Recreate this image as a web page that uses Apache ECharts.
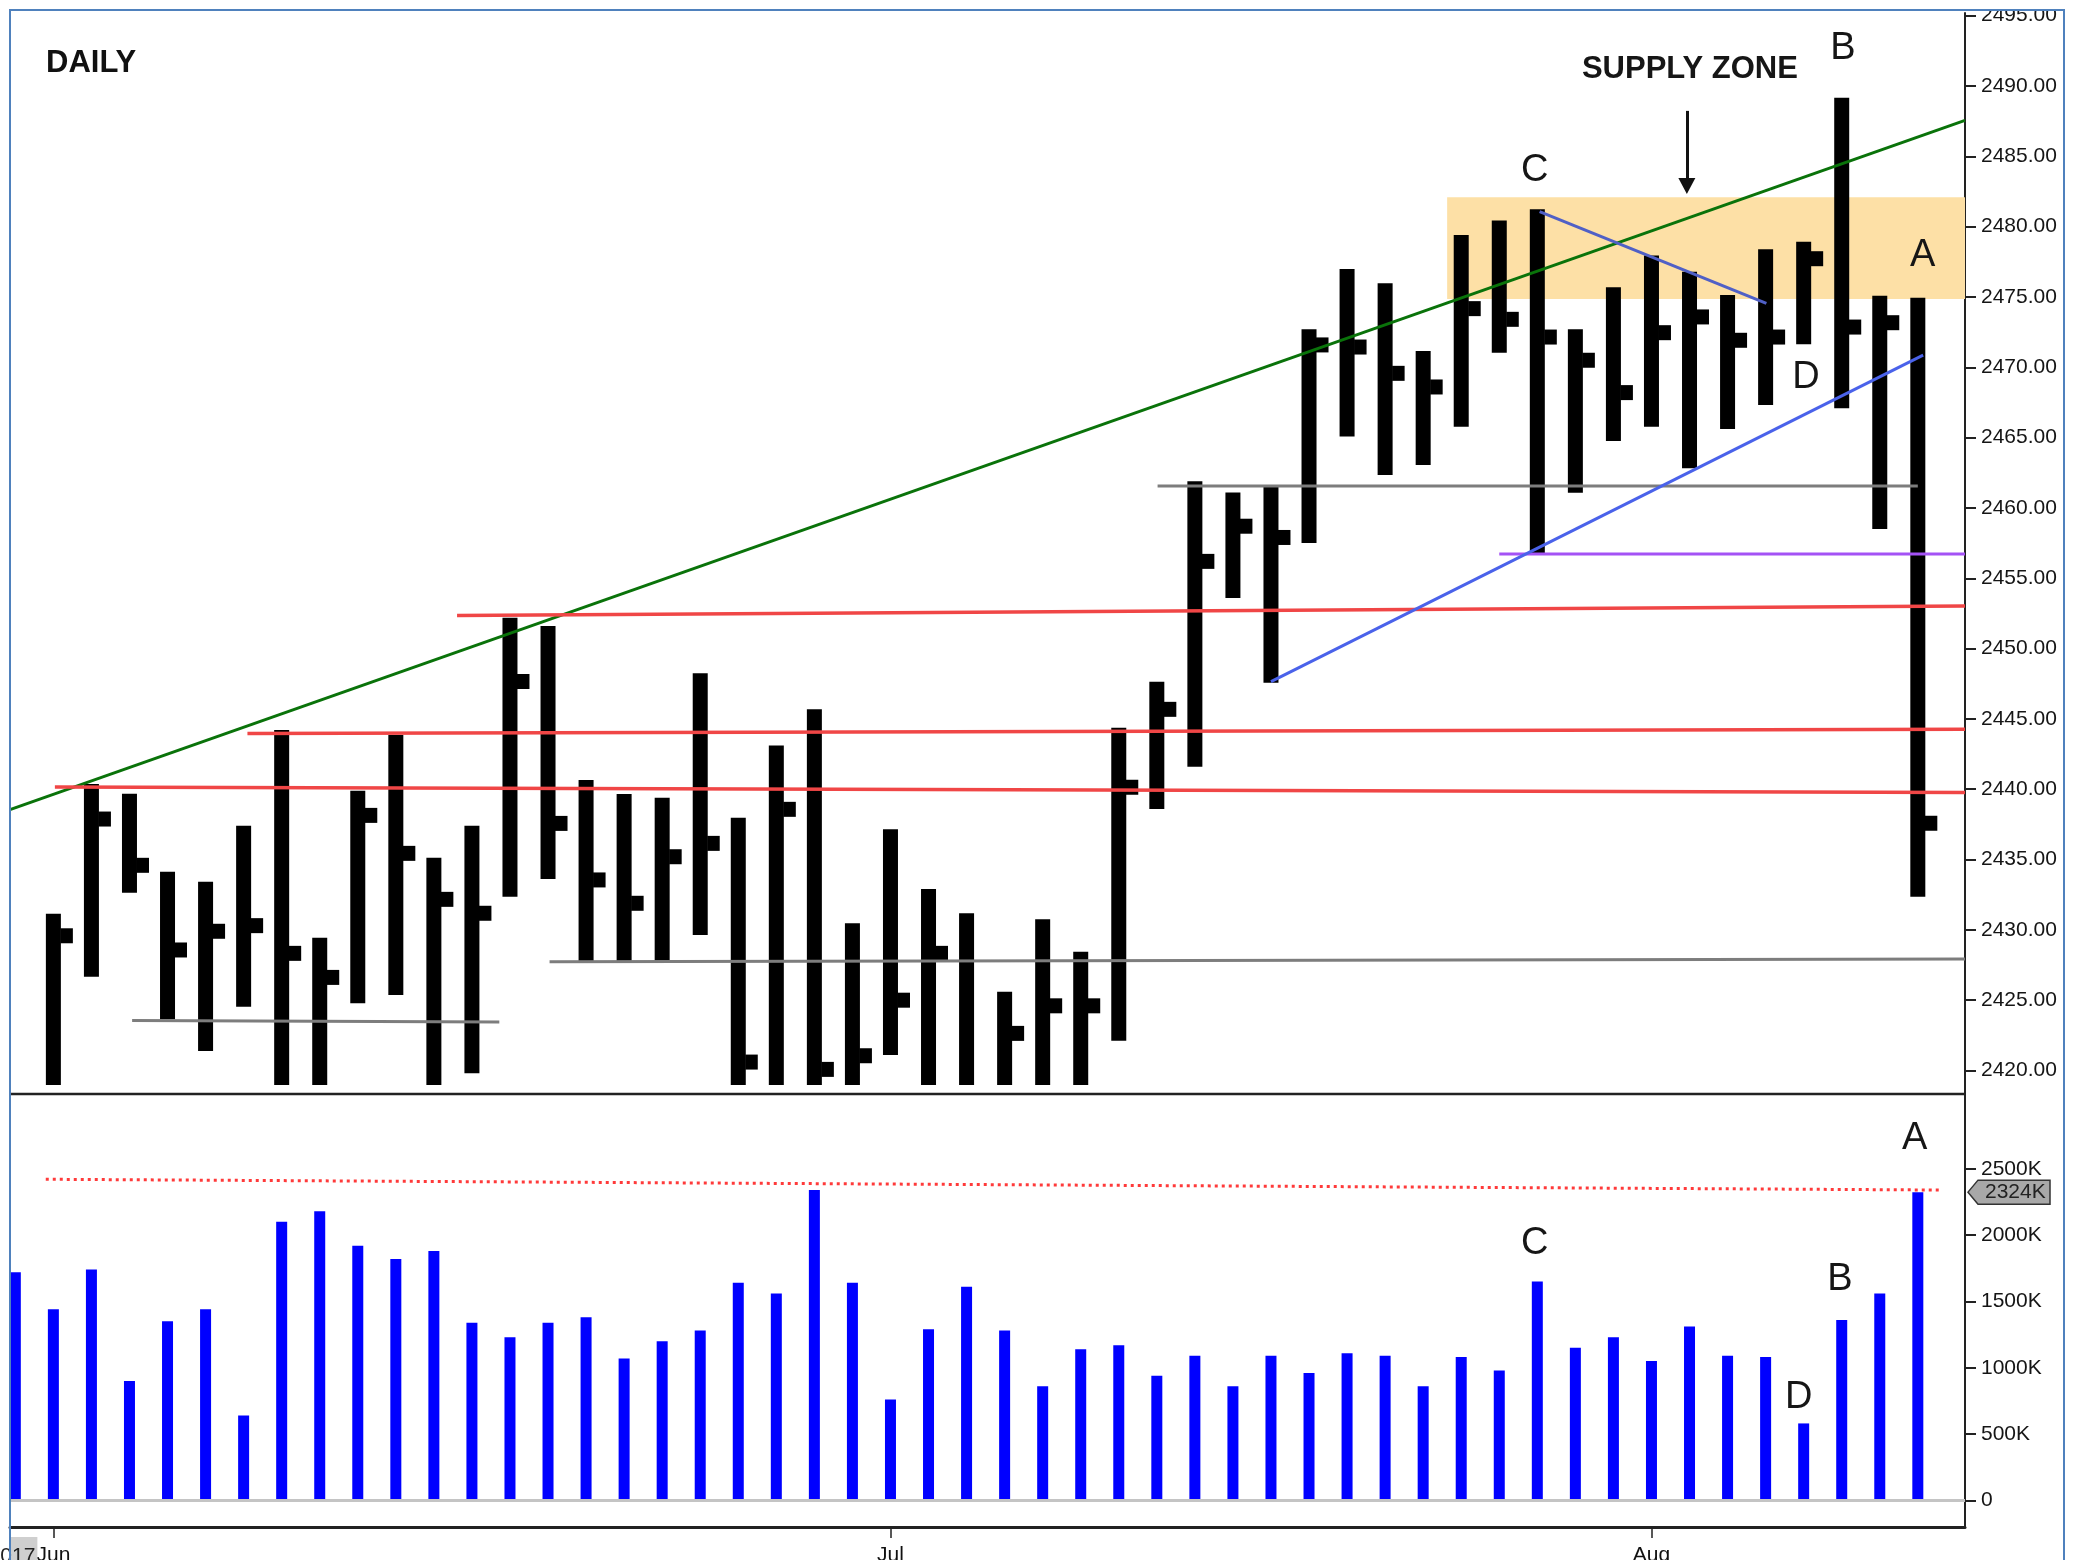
<!DOCTYPE html>
<html><head><meta charset="utf-8">
<script src="https://cdn.jsdelivr.net/npm/echarts@6/dist/echarts.min.js"></script>
<style>html,body{margin:0;padding:0;background:#fff}#c{width:2080px;height:1560px}</style>
</head><body><div id="c"></div><script>
// ---------- DATA ----------
const dates = ['2017-05-31',
 '2017-06-01','2017-06-02','2017-06-05','2017-06-06','2017-06-07','2017-06-08','2017-06-09','2017-06-12','2017-06-13','2017-06-14','2017-06-15','2017-06-16','2017-06-19','2017-06-20','2017-06-21','2017-06-22','2017-06-23','2017-06-26','2017-06-27','2017-06-28','2017-06-29','2017-06-30',
 '2017-07-03','2017-07-05','2017-07-06','2017-07-07','2017-07-10','2017-07-11','2017-07-12','2017-07-13','2017-07-14','2017-07-17','2017-07-18','2017-07-19','2017-07-20','2017-07-21','2017-07-24','2017-07-25','2017-07-26','2017-07-27','2017-07-28','2017-07-31',
 '2017-08-01','2017-08-02','2017-08-03','2017-08-04','2017-08-07','2017-08-08','2017-08-09','2017-08-10'];
const highs = [2415.0,2431.15,2440.37,2439.68,2434.14,2433.43,2437.41,2444.21,2429.44,2439.90,2443.85,2435.13,2437.41,2452.20,2451.60,2440.66,2439.66,2439.40,2448.24,2437.98,2443.10,2445.68,2430.47,2437.15,2432.90,2431.18,2425.60,2430.75,2428.45,2444.37,2447.65,2461.90,2461.10,2461.50,2472.70,2476.99,2475.97,2471.16,2479.41,2480.43,2481.23,2472.70,2475.69,2477.94,2476.80,2475.14,2478.39,2478.93,2489.17,2475.09,2474.95];
const lows = [2405.0,2417.0,2426.67,2432.64,2423.64,2421.39,2424.54,2417.0,2417.5,2424.78,2425.37,2417.5,2419.80,2432.36,2433.62,2427.79,2427.79,2427.80,2429.63,2417.0,2417.5,2417.0,2417.5,2421.10,2417.5,2416.5,2417.0,2417.5,2417.5,2422.12,2438.59,2441.60,2453.60,2447.57,2457.50,2465.07,2462.34,2463.05,2465.78,2471.04,2456.70,2461.08,2464.76,2465.78,2462.82,2465.61,2467.32,2471.63,2467.08,2458.50,2432.36];
const closes = [2412.0,2429.58,2437.88,2434.59,2428.57,2429.90,2430.30,2428.33,2426.62,2438.14,2435.44,2432.17,2431.18,2447.66,2437.57,2433.55,2431.89,2435.20,2436.15,2420.60,2438.57,2420.08,2421.05,2425.00,2428.33,2418.20,2422.64,2424.60,2424.60,2440.14,2445.68,2456.20,2458.70,2457.90,2471.59,2471.44,2469.57,2468.60,2474.17,2473.41,2472.15,2470.50,2468.20,2472.46,2473.58,2471.92,2472.15,2477.72,2472.86,2473.17,2437.58];
const volumes = [1720000,1440000,1740000,900000,1350000,1440000,640000,2100000,2180000,1920000,1820000,1880000,1340000,1230000,1340000,1380000,1070000,1200000,1280000,1640000,1560000,2340000,1640000,760000,1290000,1610000,1280000,860000,1140000,1170000,940000,1090000,860000,1090000,960000,1110000,1090000,860000,1080000,980000,1650000,1150000,1230000,1050000,1310000,1090000,1080000,580000,1360000,1560000,2324000];
const priceTicks = [2420,2425,2430,2435,2440,2445,2450,2455,2460,2465,2470,2475,2480,2485,2490,2495];
const volumeTicks = [0,500000,1000000,1500000,2000000,2500000];
const monthNames = ['Jan','Feb','Mar','Apr','May','Jun','Jul','Aug','Sep','Oct','Nov','Dec'];

// annotation lines (bar index, price)
const greenTrend = [[-0.14,2438.55],[51.24,2487.55]];
const redLevels = [
  [[1.04,2440.15],[51.24,2439.76]],
  [[6.10,2443.96],[51.24,2444.26]],
  [[11.61,2452.35],[51.24,2453.03]]
];
const grayLevels = [
  [[3.07,2423.55],[12.72,2423.45]],
  [[14.04,2427.74],[51.24,2427.92]],
  [[30.02,2461.56],[50.00,2461.56]]
];
const purpleLevel = [[39.0,2456.72],[51.24,2456.72]];
const blueRising = [[33.0,2447.65],[50.14,2470.87]];
const blueFalling = [[40.06,2481.06],[46.02,2474.55]];
const supplyZone = [[37.63,2482.09,51.24,2474.86]];
const supplyArrow = [[43.93,2488.23],[43.93,2482.89]];
const volumeRef = [[0.8,2421000],[50.56,2340000]];
const priceLetters = [['C',39.93,2483.96],['B',48.03,2492.70],['A',50.13,2477.98],['D',47.06,2469.30]];
const volumeLetters = [['A',49.92,2732000],['C',39.93,1940000],['B',47.95,1664000],['D',46.87,777000]];
const noteTexts = [['SUPPLY ZONE',44.01,2491.17]];

// ---------- CHART ----------
const FONT = "'Liberation Sans', Arial, Helvetica, sans-serif";
const X_MIN = -0.14, X_MAX = 51.24;
const monthTicks = dates.map((d,i)=> (i>0 && d.slice(5,7)!==dates[i-1].slice(5,7)) ? i : -1).filter(i=>i>=0);
const ohlc = dates.map((d,i)=>[i, highs[i], lows[i], closes[i]]);

const chart = echarts.init(document.getElementById('c'), null, {renderer:'canvas', width:2080, height:1560});

function lineSeries(pts, color, width, axis, extra){
  return Object.assign({
    type:'line', xAxisIndex:axis, yAxisIndex:axis, data:pts, symbol:'none', silent:true,
    lineStyle:{color:color, width:width}, z:5, animation:false
  }, extra||{});
}
function textSeries(arr, axis, font){
  return {
    type:'custom', xAxisIndex:axis, yAxisIndex:axis, silent:true, z:10,
    data: arr.map(d=>[d[1],d[2]]),
    renderItem:(p,api)=>{
      const pt = api.coord([api.value(0), api.value(1)]);
      return {type:'text', x:pt[0], y:pt[1], style:{text:arr[p.dataIndex][0], font:font, fill:'#161616', align:'center', verticalAlign:'middle'}};
    }
  };
}

const series = [
  { // supply zone
    type:'custom', xAxisIndex:0, yAxisIndex:0, silent:true, z:1, data:supplyZone,
    renderItem:(p,api)=>{
      const a = api.coord([api.value(0), api.value(1)]);
      const b = api.coord([api.value(2), api.value(3)]);
      return {type:'rect', shape:{x:a[0], y:a[1], width:b[0]-a[0], height:b[1]-a[1]}, style:{fill:'#fde0a6'}};
    }
  },
  { // OHLC bars (high-low with close tick)
    type:'custom', xAxisIndex:0, yAxisIndex:0, silent:true, z:3, data:ohlc, clip:true,
    encode:{x:0, y:[1,2,3]},
    renderItem:(p,api)=>{
      const i = api.value(0);
      const hi = api.coord([i, api.value(1)]);
      const lo = api.coord([i, api.value(2)]);
      const cl = api.coord([i, api.value(3)]);
      const cs = p.coordSys;
      const box = {x:cs.x, y:cs.y, width:cs.width, height:cs.height};
      const w = 15, tw = 12, th = 15;
      const body = echarts.graphic.clipRectByRect({x:hi[0]-w/2, y:hi[1], width:w, height:lo[1]-hi[1]}, box);
      const tick = echarts.graphic.clipRectByRect({x:hi[0]+w/2-0.5, y:cl[1]-th/2, width:tw+0.5, height:th}, box);
      const ch = [];
      if (body) ch.push({type:'rect', shape:body, style:{fill:'#000'}});
      if (tick) ch.push({type:'rect', shape:tick, style:{fill:'#000'}});
      return {type:'group', children:ch};
    }
  },
  lineSeries(greenTrend, '#0a730a', 3, 0),
  ...redLevels.map(l=>lineSeries(l, '#f04646', 3.5, 0)),
  ...grayLevels.map(l=>lineSeries(l, '#7d7d7d', 3, 0)),
  lineSeries(purpleLevel, '#a452f5', 3, 0),
  lineSeries(blueRising, '#4a62ea', 3, 0),
  lineSeries(blueFalling, '#5060c6', 3, 0),
  { // arrow
    type:'line', xAxisIndex:0, yAxisIndex:0, data:[], silent:true, z:6,
    markLine:{silent:true, symbol:['none','triangle'], symbolSize:[17,16], label:{show:false},
      lineStyle:{color:'#111', width:3, type:'solid'},
      data:[[{coord:supplyArrow[0]},{coord:supplyArrow[1]}]]}
  },
  textSeries(priceLetters, 0, '38px '+FONT),
  textSeries(noteTexts, 0, 'bold 31px '+FONT),
  { // volume
    type:'bar', xAxisIndex:1, yAxisIndex:1, data:volumes.map((v,i)=>[i,v]), barWidth:11, silent:true, z:3,
    itemStyle:{color:'#0000ff'},
    markLine:{silent:true, symbol:['none','none'], label:{show:false}, lineStyle:{color:'#c4c4c4', width:3, type:'solid'}, data:[{yAxis:0}]}
  },
  lineSeries(volumeRef, '#ff3a3a', 3, 1, {lineStyle:{color:'#ff3a3a', width:3, type:[3,4]}}),
  textSeries(volumeLetters, 1, '38px '+FONT)
];

const option = {
  animation:false,
  backgroundColor:'#ffffff',
  title:{text:'DAILY', left:46, top:48, padding:0, textStyle:{fontSize:31, fontWeight:'bold', color:'#111', fontFamily:FONT}},
  grid:[
    {left:10, right:115, top:13, height:1072, outerBoundsMode:'none', containLabel:false},
    {left:10, right:115, top:1094, height:433, outerBoundsMode:'none', containLabel:false}
  ],
  xAxis:[
    {type:'value', gridIndex:0, min:X_MIN, max:X_MAX, show:false},
    {type:'value', gridIndex:1, min:X_MIN, max:X_MAX,
      axisLine:{show:true, onZero:false, lineStyle:{color:'#222', width:3}},
      axisTick:{show:true, customValues:monthTicks, length:11, lineStyle:{color:'#222', width:1.5}},
      axisLabel:{customValues:monthTicks, margin:18, fontSize:21, color:'#111', fontFamily:FONT,
        formatter:v=>monthNames[parseInt(dates[Math.round(v)].slice(5,7),10)-1]},
      splitLine:{show:false}}
  ],
  yAxis:[
    {type:'value', gridIndex:0, position:'right', min:2418.97, max:2495.19,
      axisLine:{show:true, onZero:false, lineStyle:{color:'#222', width:2}},
      axisTick:{show:true, customValues:priceTicks, length:11, lineStyle:{color:'#222', width:2}},
      axisLabel:{customValues:priceTicks, margin:16, fontSize:21, color:'#151515', fontFamily:FONT, formatter:v=>v.toFixed(2)},
      splitLine:{show:false}},
    {type:'value', gridIndex:1, position:'right', min:-201000, max:3064000,
      axisLine:{show:true, onZero:false, lineStyle:{color:'#222', width:2}},
      axisTick:{show:true, customValues:volumeTicks, length:11, lineStyle:{color:'#222', width:2}},
      axisLabel:{customValues:volumeTicks, margin:16, fontSize:21, color:'#151515', fontFamily:FONT, formatter:v=> v===0 ? '0' : (v/1000)+'K'},
      splitLine:{show:false}}
  ],
  series:series
};
chart.setOption(option);

// overlays positioned through the library's scales
const lastVol = volumes[volumes.length-1];
const yb = chart.convertToPixel({yAxisIndex:1}, lastVol);
const axisX = chart.convertToPixel({xAxisIndex:1}, X_MAX);
const junPix = chart.convertToPixel({xAxisIndex:1}, monthTicks[0]);
const axisBottom = chart.convertToPixel({yAxisIndex:1}, -201000);
const panelSplit = chart.convertToPixel({yAxisIndex:1}, 3064000);
chart.setOption({graphic:[
  {type:'rect', z:100, shape:{x:0, y:0, width:2080, height:10}, style:{fill:'#fff'}},
  {type:'rect', z:101, shape:{x:10, y:10, width:2054, height:1600}, style:{fill:null, stroke:'#4f81bd', lineWidth:2}},
  {type:'line', z:50, shape:{x1:10, y1:panelSplit, x2:axisX, y2:panelSplit}, style:{stroke:'#222', lineWidth:2.5}},
  {type:'line', z:50, shape:{x1:axisX, y1:panelSplit-11, x2:axisX, y2:panelSplit+2}, style:{stroke:'#222', lineWidth:2}},
  {type:'polygon', z:60, shape:{points:[[axisX+3,yb],[axisX+13,yb-12],[axisX+85,yb-12],[axisX+85,yb+12],[axisX+13,yb+12]]}, style:{fill:'#a8a8a8', stroke:'#333', lineWidth:1.5}},
  {type:'text', z:61, x:axisX+20, y:yb, style:{text:Math.round(lastVol/1000)+'K', font:'21px '+FONT, fill:'#222', verticalAlign:'middle'}},
  {type:'rect', z:60, shape:{x:10, y:axisBottom+10, width:junPix-26, height:40}, style:{fill:'#cfcfcf'}},
  {type:'text', z:61, x:junPix-18, y:axisBottom+19, style:{text:dates[0].slice(0,4), font:'21px '+FONT, fill:'#222', align:'right', verticalAlign:'top'}}
]});
</script></body></html>
